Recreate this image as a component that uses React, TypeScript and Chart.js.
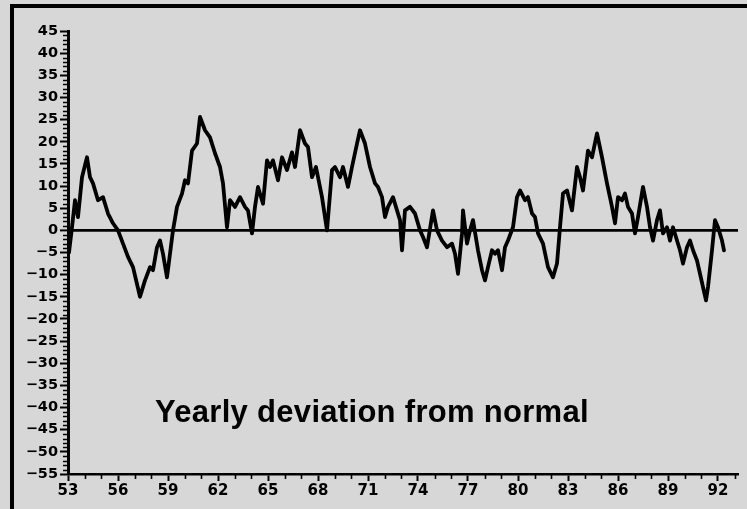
import React, { useEffect, useRef } from "react";
import { Chart, registerables } from "chart.js";

Chart.register(...registerables);

const years = [
  53.06, 53.24, 53.42, 53.6, 53.84, 54.14, 54.32, 54.5, 54.8, 55.1,
  55.4, 55.7, 56.0, 56.3, 56.6, 56.9, 57.32, 57.62, 57.92, 58.1,
  58.34, 58.52, 58.7, 58.94, 59.12, 59.3, 59.54, 59.84, 60.02, 60.2,
  60.44, 60.74, 60.92, 61.22, 61.52, 61.82, 62.12, 62.3, 62.54, 62.72,
  63.02, 63.32, 63.62, 63.8, 64.04, 64.22, 64.4, 64.7, 64.94, 65.12,
  65.3, 65.6, 65.84, 66.14, 66.44, 66.62, 66.92, 67.22, 67.4, 67.64,
  67.88, 68.24, 68.54, 68.84, 69.02, 69.32, 69.5, 69.8, 70.04, 70.34,
  70.52, 70.82, 71.12, 71.42, 71.6, 71.84, 72.02, 72.2, 72.5, 72.74,
  72.92, 73.04, 73.22, 73.52, 73.82, 74.12, 74.3, 74.54, 74.9, 75.14,
  75.44, 75.74, 76.04, 76.22, 76.4, 76.64, 76.7, 76.94, 77.12, 77.3,
  77.6, 77.84, 78.02, 78.2, 78.44, 78.62, 78.8, 79.04, 79.22, 79.4,
  79.7, 79.94, 80.12, 80.42, 80.6, 80.84, 81.02, 81.2, 81.5, 81.8,
  82.1, 82.34, 82.52, 82.7, 82.94, 83.24, 83.54, 83.72, 83.9, 84.2,
  84.44, 84.74, 85.04, 85.34, 85.64, 85.82, 86.0, 86.24, 86.42, 86.6,
  86.84, 87.02, 87.2, 87.5, 87.74, 87.92, 88.1, 88.34, 88.52, 88.7,
  88.94, 89.12, 89.3, 89.54, 89.72, 89.9, 90.14, 90.32, 90.5, 90.74,
  90.92, 91.1, 91.28, 91.4, 91.64, 91.82, 92.0, 92.24, 92.36,
];

const deviation = [
  -5, 0.7, 6.8, 3, 12, 16.5, 12, 10.6, 6.8, 7.5,
  3.8, 1.6, 0, -3, -6, -8.3, -15, -11.3, -8.3, -9,
  -3.8, -2.3, -5.3, -10.6, -5.3, 0, 5.3, 8.3, 11.3, 10.6,
  18, 19.6, 25.6, 22.6, 21, 17.4, 14.3, 10.6, 0.7, 6.8,
  5.3, 7.5, 5.3, 4.5, -0.7, 5.3, 9.8, 6, 15.8, 14.3,
  15.8, 11.3, 16.5, 13.6, 17.6, 14.3, 22.6, 19.6, 18.8, 12,
  14.3, 7.5, 0, 13.6, 14.3, 12, 14.3, 9.8, 14.3, 19.6,
  22.6, 19.6, 14.3, 10.6, 9.8, 7.5, 3, 5.3, 7.5, 4.5,
  2.3, -4.5, 4.5, 5.3, 3.8, 0, -1.5, -3.8, 4.5, 0,
  -2.3, -3.8, -3, -5.3, -9.8, -0.7, 4.5, -3, 0, 2.3,
  -4.5, -9, -11.3, -8.3, -4.5, -5.3, -4.5, -9, -3.8, -2.3,
  0.7, 7.5, 9, 6.8, 7.5, 3.8, 3, -0.7, -3, -8.3,
  -10.6, -7.5, 0.7, 8.3, 9, 4.5, 14.3, 12, 9, 18,
  16.5, 21.9, 16.5, 10.6, 5.3, 1.6, 7.5, 6.8, 8.3, 5.3,
  3.8, -0.7, 3, 9.8, 5.3, 0.7, -2.3, 2.3, 4.5, -0.7,
  0.7, -2.3, 0.7, -2.3, -4.5, -7.5, -3.8, -2.3, -4.5, -6.8,
  -9.8, -12.8, -15.8, -12.8, -4.5, 2.3, 0.7, -2.3, -4.5,
];

const xMajorTicks = [53, 56, 59, 62, 65, 68, 71, 74, 77, 80, 83, 86, 89, 92];
const yMajorTicks = [-55, -50, -45, -40, -35, -30, -25, -20, -15, -10, -5, 0, 5, 10, 15, 20, 25, 30, 35, 40, 45];
const xMin = 53;
const xMax = 93.2;
const yMin = -55;
const yMax = 45;
const titleText = "Yearly deviation from normal";

const BG = "#d7d7d7";

const framePlugin = {
  id: "frameAndMinor",
  beforeDraw(chart: any) {
    const ctx = chart.ctx;
    ctx.save();
    ctx.fillStyle = BG;
    ctx.fillRect(0, 0, chart.width, chart.height);
    ctx.strokeStyle = "#000";
    ctx.lineWidth = 4;
    ctx.beginPath();
    ctx.moveTo(12, chart.height + 5);
    ctx.lineTo(12, 6);
    ctx.lineTo(chart.width + 5, 6);
    ctx.stroke();
    ctx.restore();
  },
  afterDraw(chart: any) {
    const ctx = chart.ctx;
    const area = chart.chartArea;
    const xs = chart.scales.x;
    const ys = chart.scales.y;
    ctx.save();
    ctx.strokeStyle = "#000";
    ctx.lineWidth = 1.6;
    ctx.beginPath();
    for (let v = yMin; v <= yMax; v++) {
      if (v % 5 === 0) continue;
      const py = Math.round(ys.getPixelForValue(v)) + 0.5;
      ctx.moveTo(area.left - 5, py);
      ctx.lineTo(area.left, py);
    }
    for (let v = Math.ceil(xMin); v <= Math.floor(xMax); v++) {
      if (xMajorTicks.includes(v)) continue;
      const px = Math.round(xs.getPixelForValue(v)) + 0.5;
      ctx.moveTo(px, area.bottom);
      ctx.lineTo(px, area.bottom + 5);
    }
    ctx.stroke();
    ctx.fillStyle = "#000";
    ctx.font = 'bold 31px "Liberation Sans", Arial, sans-serif';
    (ctx as any).letterSpacing = "0.3px";
    ctx.textAlign = "left";
    ctx.textBaseline = "alphabetic";
    ctx.fillText(titleText, 155, 422);
    ctx.restore();
  },
};

export default function App() {
  const canvasRef = useRef<HTMLCanvasElement | null>(null);

  useEffect(() => {
    const canvas = canvasRef.current;
    if (!canvas) return;
    const points = years.map((yr, i) => ({ x: yr, y: deviation[i] }));
    const chart = new Chart(canvas, {
      type: "line",
      data: {
        datasets: [
          {
            data: points,
            borderColor: "#000",
            borderWidth: 3.8,
            borderJoinStyle: "round",
            borderCapStyle: "round",
            pointRadius: 0,
            tension: 0,
            fill: false,
          },
        ],
      },
      options: {
        responsive: false,
        animation: false,
        devicePixelRatio: 1,
        layout: { padding: { left: 0, top: 31, right: 9, bottom: 0 } },
        plugins: {
          legend: { display: false },
          tooltip: { enabled: false },
          title: { display: false },
        },
        scales: {
          x: {
            type: "linear",
            min: xMin,
            max: xMax,
            afterBuildTicks: (scale: any) => {
              scale.ticks = xMajorTicks.map((v) => ({ value: v }));
            },
            afterFit: (scale: any) => {
              scale.height = 35;
            },
            border: { display: true, color: "#000", width: 2.5 },
            grid: {
              drawOnChartArea: false,
              drawTicks: true,
              tickLength: 7,
              tickWidth: 2,
              tickColor: "#000",
            },
            ticks: {
              autoSkip: false,
              maxRotation: 0,
              padding: 1,
              color: "#000",
              font: { family: '"DejaVu Sans", sans-serif', weight: "bold", size: 15 },
              callback: (v: any) => String(v),
            },
          },
          y: {
            type: "linear",
            min: yMin,
            max: yMax,
            afterBuildTicks: (scale: any) => {
              scale.ticks = yMajorTicks.map((v) => ({ value: v }));
            },
            afterFit: (scale: any) => {
              scale.width = 68;
            },
            border: { display: true, color: "#000", width: 3 },
            grid: {
              drawOnChartArea: true,
              color: (c: any) => (c.tick && c.tick.value === 0 ? "#000" : "rgba(0,0,0,0)"),
              lineWidth: (c: any) => (c.tick && c.tick.value === 0 ? 2.8 : 1),
              tickLength: 8,
              tickWidth: 2,
              tickColor: "#000",
            },
            ticks: {
              autoSkip: false,
              padding: 2,
              color: "#000",
              font: { family: '"DejaVu Sans", sans-serif', weight: "bold", size: 14.5 },
              callback: (v: any) => (Number(v) < 0 ? "\u2212" + Math.abs(Number(v)) : String(v)),
            },
          },
        },
      },
      plugins: [framePlugin],
    });
    return () => chart.destroy();
  }, []);

  return (
    <div style={{ position: "fixed", left: 0, top: 0, width: 747, height: 509, background: BG }}>
      <canvas ref={canvasRef} width={747} height={509} style={{ display: "block" }} />
    </div>
  );
}
